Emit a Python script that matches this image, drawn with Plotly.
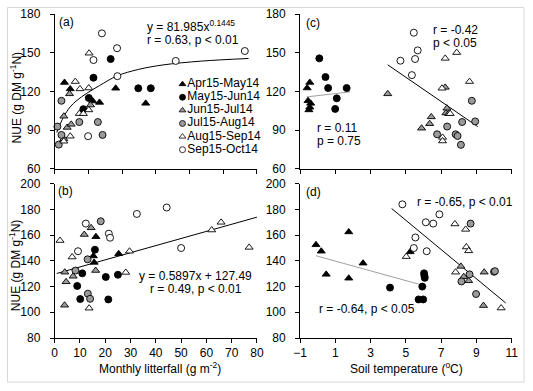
import plotly.graph_objects as go

W, H = 533, 391
FONT = "Liberation Sans, Arial, sans-serif"
GRAY = "#9a9a9a"

SERIES = ["Apr15-May14", "May15-Jun14", "Jun15-Jul14", "Jul15-Aug14", "Aug15-Sep14", "Sep15-Oct14"]
SYMBOLS = ["triangle-up", "circle", "triangle-up", "circle", "triangle-up", "circle"]
FILLS = ["black", "black", GRAY, GRAY, "white", "white"]

# ---- panel (a): NUE vs monthly litterfall (first period)
A_APR_X = [2.9, 4.6, 11.3, 13.3, 18.1, 27.0]
A_APR_Y = [126.9, 121.9, 112.5, 111.4, 122.4, 110.7]
A_MAY_X = [8.5, 10.1, 11.5, 16.6, 24.8, 28.5]
A_MAY_Y = [106.2, 114.9, 130.6, 145.1, 122.4, 122.4]
A_JUN_X = [2.7, 2.7, 3.7, 4.4, 4.9, 10.6]
A_JUN_Y = [83.2, 100.7, 92.0, 118.1, 94.4, 109.4]
A_JUL_X = [0.8, 1.2, 2.0, 2.0, 7.3, 12.8, 14.2]
A_JUL_Y = [92.7, 78.7, 86.2, 112.7, 96.2, 96.2, 86.2]
A_AUG_X = [2.7, 4.6, 6.1, 7.3, 7.5, 8.5, 10.1, 10.1, 10.2]
A_AUG_Y = [81.3, 85.2, 127.6, 102.7, 121.9, 102.7, 105.6, 122.6, 149.6]
A_SEP_X = [9.9, 11.5, 14.0, 18.5, 18.6, 35.9, 56.4]
A_SEP_Y = [85.2, 144.3, 165.0, 153.5, 131.8, 143.6, 151.3]
A_FIT_X = [0.6, 2.6, 4.6, 6.6, 9.5, 13.3, 18.5, 24.8, 32.1, 43.6, 57.5]
A_FIT_Y = [88.0, 100.0, 108.0, 113.0, 118.5, 124.5, 132.0, 137.0, 140.5, 143.5, 145.5]

# ---- panel (b): NUE vs monthly litterfall (second period)
B_APR_X = [15.3, 15.6, 16.3, 25.3]
B_APR_Y = [143.8, 138.8, 158.8, 145.5]
B_MAY_X = [8.9, 10.1, 10.9, 15.9, 20.2, 21.2, 25.0]
B_MAY_Y = [120.5, 110.3, 130.3, 148.7, 127.5, 110.0, 129.2]
B_JUN_X = [3.9, 4.0, 4.5, 7.3, 11.7, 14.4, 16.2]
B_JUN_Y = [105.5, 131.2, 123.7, 128.0, 160.5, 165.7, 132.5]
B_JUL_X = [8.2, 13.0, 13.1, 14.0, 18.2]
B_JUL_Y = [132.5, 141.2, 114.5, 110.5, 170.8]
B_AUG_X = [2.1, 6.9, 13.6, 28.1, 29.6, 62.1, 65.8, 76.9]
B_AUG_Y = [155.8, 143.0, 103.2, 131.0, 147.5, 164.0, 170.0, 150.5]
B_SEP_X = [9.2, 12.3, 21.4, 21.9, 32.5, 44.3, 50.0]
B_SEP_Y = [147.5, 169.0, 161.2, 158.0, 176.5, 181.5, 150.0]
B_FIT_X = [0.8, 80.0]
B_FIT_Y = [130.2, 174.0]

# ---- panel (c): NUE vs soil temperature (first period)
C_APR_X = [-0.6, -0.55, -0.45, -0.45, -0.4, -0.5]
C_APR_Y = [122.6, 112.7, 126.9, 107.7, 110.7, 105.6]
C_MAY_X = [0.09, 0.44, 0.59, 0.99, 1.08, 1.64]
C_MAY_Y = [145.6, 131.1, 122.6, 106.4, 114.6, 122.6]
C_JUN_X = [3.97, 5.89, 6.35, 6.44, 7.23, 7.27, 7.33, 7.42]
C_JUN_Y = [118.1, 91.4, 94.9, 100.2, 123.1, 103.2, 106.9, 102.7]
C_JUL_X = [6.77, 7.34, 7.82, 7.93, 8.12, 8.19, 8.74, 8.93]
C_JUL_Y = [86.7, 92.7, 86.7, 85.4, 78.5, 96.2, 112.7, 96.7]
C_AUG_X = [7.05, 7.08, 7.08, 7.23, 7.51, 7.88, 8.61]
C_AUG_Y = [122.4, 84.3, 81.5, 145.6, 102.7, 150.1, 127.6]
C_SEP_X = [4.69, 5.34, 5.45, 5.52, 5.67]
C_SEP_Y = [143.8, 132.6, 165.5, 145.1, 151.8]
C_FIT1_X = [-0.63, 1.83]
C_FIT1_Y = [115.7, 119.6]
C_FIT2_X = [3.97, 9.07]
C_FIT2_Y = [140.6, 92.7]

# ---- panel (d): NUE vs soil temperature (second period)
D_APR_X = [-0.1, 0.2, 0.48, 1.76, 1.76, 2.57, 5.24]
D_APR_Y = [152.5, 147.5, 129.5, 162.5, 126.5, 138.2, 147.0]
D_MAY_X = [4.10, 5.72, 5.93, 5.98, 6.03, 6.05, 6.07]
D_MAY_Y = [119.2, 110.0, 120.0, 110.0, 130.3, 128.5, 126.8]
D_JUN_X = [8.12, 8.28, 8.56, 9.44, 9.4]
D_JUN_Y = [135.7, 127.7, 124.5, 131.2, 105.2]
D_JUL_X = [8.15, 8.61, 8.67, 8.98, 10.0, 10.05]
D_JUL_Y = [124.0, 129.5, 169.0, 114.2, 131.5, 132.0]
D_AUG_X = [5.02, 7.78, 7.82, 8.39, 8.43, 8.56, 10.4]
D_AUG_Y = [143.3, 168.7, 131.2, 164.5, 150.8, 147.8, 103.3]
D_SEP_X = [4.80, 5.45, 5.54, 6.13, 6.18, 6.55, 6.90]
D_SEP_Y = [184.0, 150.0, 158.2, 170.0, 147.5, 169.0, 176.2]
D_FIT1_X = [-0.1, 6.17]
D_FIT1_Y = [144.0, 120.2]
D_FIT2_X = [4.19, 10.66]
D_FIT2_Y = [180.75, 107.25]

PANELS = {
    ("x", "y"): [(A_APR_X, A_APR_Y), (A_MAY_X, A_MAY_Y), (A_JUN_X, A_JUN_Y),
                 (A_JUL_X, A_JUL_Y), (A_AUG_X, A_AUG_Y), (A_SEP_X, A_SEP_Y)],
    ("x2", "y2"): [(C_APR_X, C_APR_Y), (C_MAY_X, C_MAY_Y), (C_JUN_X, C_JUN_Y),
                   (C_JUL_X, C_JUL_Y), (C_AUG_X, C_AUG_Y), (C_SEP_X, C_SEP_Y)],
    ("x3", "y3"): [(B_APR_X, B_APR_Y), (B_MAY_X, B_MAY_Y), (B_JUN_X, B_JUN_Y),
                   (B_JUL_X, B_JUL_Y), (B_AUG_X, B_AUG_Y), (B_SEP_X, B_SEP_Y)],
    ("x4", "y4"): [(D_APR_X, D_APR_Y), (D_MAY_X, D_MAY_Y), (D_JUN_X, D_JUN_Y),
                   (D_JUL_X, D_JUL_Y), (D_AUG_X, D_AUG_Y), (D_SEP_X, D_SEP_Y)],
}

fig = go.Figure()

def line(xs, ys, xa, ya, color="black", shape="linear"):
    fig.add_trace(go.Scatter(x=xs, y=ys, xaxis=xa, yaxis=ya, mode="lines",
                             line=dict(color=color, width=1, shape=shape),
                             showlegend=False, hoverinfo="skip"))

line(A_FIT_X, A_FIT_Y, "x", "y", shape="spline")
line(B_FIT_X, B_FIT_Y, "x3", "y3")
line(C_FIT1_X, C_FIT1_Y, "x2", "y2", color="#a0a0a0")
line(C_FIT2_X, C_FIT2_Y, "x2", "y2")
line(D_FIT1_X, D_FIT1_Y, "x4", "y4", color="#a0a0a0")
line(D_FIT2_X, D_FIT2_Y, "x4", "y4")

for (xa, ya), series in PANELS.items():
    for i, (xs, ys) in enumerate(series):
        fig.add_trace(go.Scatter(
            x=xs, y=ys, xaxis=xa, yaxis=ya, mode="markers", name=SERIES[i],
            showlegend=False, cliponaxis=False,
            marker=dict(symbol=SYMBOLS[i], size=7, color=FILLS[i],
                        line=dict(color="black", width=0.9))))

# custom compact legend inside panel (a)
fig.add_trace(go.Scatter(
    x=[0] * len(SERIES), y=list(range(len(SERIES))), xaxis="x5", yaxis="y5",
    mode="markers+text", text=SERIES, textposition="middle right",
    textfont=dict(family=FONT, size=12, color="black"),
    marker=dict(symbol=SYMBOLS, size=6, color=FILLS, line=dict(color="black", width=0.8)),
    showlegend=False, hoverinfo="skip", cliponaxis=False))

def px_x(p):
    return p / W

def px_y(p):
    return 1 - p / H

TOP = [px_y(167.7), px_y(7.3)]
BOT = [px_y(343.3), px_y(183.3)]
LEFT = [px_x(49), px_x(256.7)]
RIGHT = [px_x(301), px_x(518.3)]

ax_common = dict(showline=True, linecolor="black", linewidth=1, ticks="outside",
                 ticklen=4, tickcolor="black", tickwidth=1, showgrid=False, zeroline=False,
                 tickfont=dict(family=FONT, size=12, color="black"))
y_common = dict(ticklabelstandoff=7, **ax_common)

fig.update_layout(
    width=W, height=H, margin=dict(l=0, r=0, t=0, b=0),
    paper_bgcolor="white", plot_bgcolor="white", showlegend=False,
    font=dict(family=FONT, size=12, color="black"),
    xaxis=dict(domain=LEFT, anchor="y", range=[0, 60], dtick=10, showticklabels=False, **ax_common),
    yaxis=dict(domain=TOP, anchor="x", range=[60, 180], dtick=30, **y_common),
    xaxis2=dict(domain=RIGHT, anchor="y2", range=[-1, 11], tick0=-1, dtick=2, showticklabels=False, **ax_common),
    yaxis2=dict(domain=TOP, anchor="x2", range=[60, 180], dtick=30, **y_common),
    xaxis3=dict(domain=LEFT, anchor="y3", range=[0, 80], dtick=10, **ax_common),
    yaxis3=dict(domain=BOT, anchor="x3", range=[80, 200], dtick=20, **y_common),
    xaxis4=dict(domain=RIGHT, anchor="y4", range=[-1, 11], tick0=-1, dtick=2, **ax_common),
    yaxis4=dict(domain=BOT, anchor="x4", range=[80, 200], dtick=20, **y_common),
    xaxis5=dict(domain=[px_x(176), px_x(265)], anchor="y5", range=[-0.05, 1], visible=False),
    yaxis5=dict(domain=[px_y(154.8), px_y(73.2)], anchor="x5", range=[5.5, -0.5], visible=False),
)

def note(text, x, y, xanchor="left", angle=0, size=12):
    fig.add_annotation(text=text, x=px_x(x), y=px_y(y), xref="paper", yref="paper",
                       xanchor=xanchor, yanchor="middle", showarrow=False, textangle=angle,
                       borderpad=0, font=dict(family=FONT, size=size, color="black"))

note("(a)", 52, 16)
note("y = 81.985x<sup>0.1445</sup>", 143, 20)
note("r = 0.63, p < 0.01", 143, 34)
note("(c)", 306, 17)
note("r = -0.42", 436, 23.5)
note("p < 0.05", 436, 37)
note("r = 0.11", 317, 125)
note("p = 0.75", 317, 138.5)
note("(b)", 51, 191)
note("y = 0.5897x + 127.49", 135, 279)
note("r = 0.49, p < 0.01", 146, 292.5)
note("(d)", 306, 192)
note("r = -0.65, p < 0.01", 420, 202)
note("r = -0.64, p < 0.05", 319, 313)
note("NUE (g DM g<sup>-1</sup>N)", 9, 94, xanchor="center", angle=-90)
note("NUE (g DM g<sup>-1</sup>N)", 9, 268, xanchor="center", angle=-90)
note("Monthly litterfall (g m<sup>-2</sup>)", 157, 374, xanchor="center")
note("Soil temperature (<sup>o</sup>C)", 410, 374, xanchor="center")

fig.add_shape(type="rect", xref="paper", yref="paper", x0=px_x(0.5), x1=px_x(531),
              y0=px_y(389), y1=px_y(0.5), line=dict(color="#d8d8d8", width=1))

fig.write_html("out.html", config={"displayModeBar": False},
               post_script="document.body.style.margin='0';document.body.style.overflow='hidden';")
